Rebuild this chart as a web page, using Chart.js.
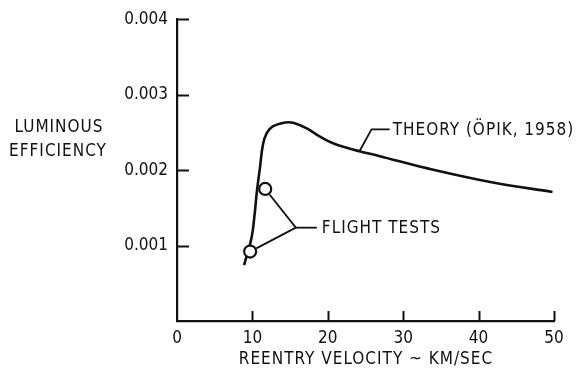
<!DOCTYPE html>
<html>
<head>
<meta charset="utf-8">
<style>
  html, body { margin: 0; padding: 0; background: #fff; }
  #wrap { width: 580px; height: 374px; position: relative; }
</style>
<script src="https://cdn.jsdelivr.net/npm/chart.js@4/dist/chart.umd.min.js"></script>
</head>
<body>
<div id="wrap"><canvas id="c" width="580" height="374"></canvas></div>
<script>
// Theory curve (Öpik, 1958): reentry velocity (km/s) vs luminous efficiency
const theoryVelocity = [8.9, 9.9, 10.3, 10.6, 11.0, 11.4, 11.9, 12.7, 14.3, 15.4, 17.2, 18.9, 20.7, 22.5, 24.2, 26.9, 33.1, 41.9, 49.8];
const theoryEfficiency = [0.00074, 0.00111, 0.00142, 0.00172, 0.00203, 0.00234, 0.00249, 0.00258, 0.00263, 0.002628, 0.002553, 0.002447, 0.002355, 0.002296, 0.00225, 0.002184, 0.002026, 0.001836, 0.00171];

// Flight test measurements
const flightVelocity = [9.7, 11.7];
const flightEfficiency = [0.00092, 0.00175];

// Axis ticks
const xTicks = [0, 10, 20, 30, 40, 50];
const yTicks = [0, 0.001, 0.002, 0.003, 0.004];

const FONT = '"DejaVu Sans Condensed", "DejaVu Sans", sans-serif';
const INK = '#111';

const theoryPts = theoryVelocity.map((v, i) => ({ x: v, y: theoryEfficiency[i] }));
const flightPts = flightVelocity.map((v, i) => ({ x: v, y: flightEfficiency[i] }));

// Inward tick marks, axis captions and the two callouts
const decor = {
  id: 'decor',
  afterDraw(chart) {
    const ctx = chart.ctx;
    const xs = chart.scales.x, ys = chart.scales.y;
    const a = chart.chartArea;
    ctx.save();
    ctx.strokeStyle = INK;
    ctx.fillStyle = INK;
    ctx.lineWidth = 2;
    ctx.lineCap = 'butt';

    // x ticks point up into the plot
    xTicks.forEach(v => {
      if (v === 0) return;
      const px = Math.round(xs.getPixelForValue(v)) + 0.5;
      ctx.beginPath();
      ctx.moveTo(px, a.bottom);
      ctx.lineTo(px, a.bottom - 10);
      ctx.stroke();
    });
    // y ticks point right into the plot
    yTicks.forEach(v => {
      if (v === 0) return;
      const py = Math.round(ys.getPixelForValue(v)) + 0.5;
      ctx.beginPath();
      ctx.moveTo(a.left, py);
      ctx.lineTo(a.left + 12, py);
      ctx.stroke();
    });

    ctx.font = '17px ' + FONT;
    ctx.letterSpacing = '1px';
    ctx.textAlign = 'center';
    ctx.textBaseline = 'middle';

    // y caption, horizontal, two lines
    ctx.fillText('LUMINOUS', 59, 128);
    ctx.fillText('EFFICIENCY', 58, 152);

    // x caption
    ctx.fillText('REENTRY VELOCITY ~ KM/SEC', 366, 360);

    const P = (x, y) => [xs.getPixelForValue(x), ys.getPixelForValue(y)];

    // Theory callout
    ctx.lineWidth = 1.8;
    const t0 = P(24.2, 0.00225), t1 = P(25.8, 0.00254), t2 = P(28.2, 0.00254);
    ctx.beginPath();
    ctx.moveTo(t0[0], t0[1]);
    ctx.lineTo(t1[0], t1[1]);
    ctx.lineTo(t2[0], t2[1]);
    ctx.stroke();
    ctx.textAlign = 'left';
    ctx.fillText('THEORY (ÖPIK, 1958)', t2[0] + 3, t2[1] + 1);

    // Flight tests callout
    const v = P(15.76, 0.001237), h = P(18.55, 0.001237);
    flightPts.forEach(p => {
      const c = P(p.x, p.y);
      const dx = v[0] - c[0], dy = v[1] - c[1];
      const L = Math.hypot(dx, dy);
      ctx.beginPath();
      ctx.moveTo(c[0] + dx / L * 7, c[1] + dy / L * 7);
      ctx.lineTo(v[0], v[1]);
      ctx.stroke();
    });
    ctx.beginPath();
    ctx.moveTo(v[0], v[1]);
    ctx.lineTo(h[0], h[1]);
    ctx.stroke();
    ctx.fillText('FLIGHT TESTS', h[0] + 5, h[1] + 1);
    ctx.restore();
  }
};

new Chart(document.getElementById('c'), {
  type: 'line',
  data: {
    datasets: [
      {
        label: 'Theory',
        data: theoryPts,
        borderColor: INK,
        borderWidth: 2.6,
        pointRadius: 0,
        tension: 0.4,
        fill: false,
        order: 2
      },
      {
        label: 'Flight tests',
        data: flightPts,
        showLine: false,
        pointRadius: 6,
        pointBorderWidth: 2.2,
        pointBorderColor: INK,
        pointBackgroundColor: '#fff',
        order: 1
      }
    ]
  },
  options: {
    responsive: false,
    animation: false,
    layout: { padding: { left: 0, right: 26, top: 17, bottom: 0 } },
    plugins: { legend: { display: false }, tooltip: { enabled: false } },
    scales: {
      x: {
        type: 'linear',
        min: 0, max: 50,
        afterBuildTicks(s) { s.ticks = xTicks.map(v => ({ value: v })); },
        afterFit(s) { s.height = 53; },
        grid: { display: false, drawTicks: false },
        border: { display: true, color: INK, width: 2.2 },
        ticks: {
          padding: 7,
          color: INK,
          font: { family: FONT, size: 17 },
          maxRotation: 0,
          callback: v => String(v)
        }
      },
      y: {
        type: 'linear',
        min: 0, max: 0.004,
        afterBuildTicks(s) { s.ticks = yTicks.map(v => ({ value: v })); },
        afterFit(s) { s.width = 177; },
        grid: { display: false, drawTicks: false },
        border: { display: true, color: INK, width: 2.2 },
        ticks: {
          padding: 9,
          color: INK,
          font: { family: FONT, size: 17 },
          callback: v => (v === 0 ? '' : v.toFixed(3))
        }
      }
    }
  },
  plugins: [decor]
});
</script>
</body>
</html>
